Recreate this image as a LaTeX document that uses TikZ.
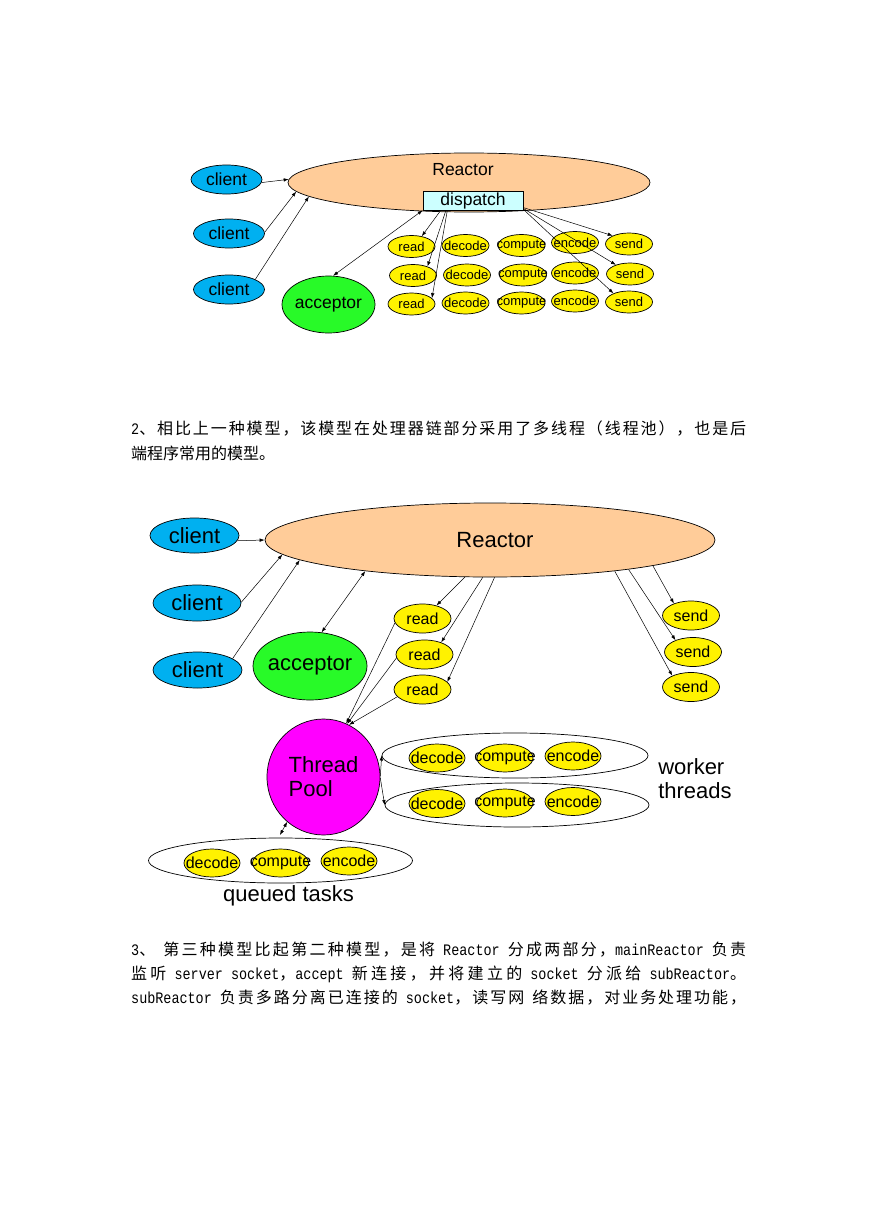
\documentclass[tikz,border=0pt]{standalone}
\usepackage{fontspec}
\usepackage{graphicx}
\usepackage{tikz}
\usetikzlibrary{arrows.meta, shapes.geometric}

\setmainfont{Noto Sans CJK SC}
\setsansfont{Liberation Sans}
\setmonofont{Liberation Mono}[FakeStretch=0.84]

% spread glue between Chinese characters, for justified lines
\XeTeXinterchartokenstate=1
\newcount\hanzi
\hanzi="4E00
\loop\ifnum\hanzi<"A000
	\XeTeXcharclass\hanzi=1
	\advance\hanzi by 1
\repeat
\XeTeXcharclass"3001=1
\XeTeXcharclass"3002=1
\XeTeXcharclass"FF08=1
\XeTeXcharclass"FF09=1
\XeTeXcharclass"FF0C=1
\XeTeXinterchartoks 1 1 = {\hskip 0pt plus 1fil}
\XeTeXinterchartoks 0 1 = {\hskip 0pt plus 1fil}
\XeTeXinterchartoks 1 0 = {\hskip 0pt plus 1fil}

\definecolor{clientblue}{RGB}{0,176,240}
\definecolor{reactorpeach}{RGB}{255,204,153}
\definecolor{dispcyan}{RGB}{204,255,255}
\definecolor{acceptgreen}{RGB}{40,250,40}
\definecolor{poolmagenta}{RGB}{255,0,255}

\begin{document}
\begin{tikzpicture}[x=1pt, y=-1pt,
		>={Latex[length=5pt, width=3.5pt]},
		onebig/.style={font=\sffamily\fontsize{17.5}{20}\selectfont},
		onesmall/.style={font=\sffamily\fontsize{13}{15}\selectfont},
		twobig/.style={font=\sffamily\fontsize{22}{24}\selectfont},
		twosmall/.style={font=\sffamily\fontsize{16}{18}\selectfont},
		blob/.style={draw, ellipse, line width=0.7pt, inner sep=0pt},
		reactor/.style={blob, fill=reactorpeach},
		client/.style={blob, fill=clientblue},
		acceptor/.style={blob, fill=acceptgreen},
		pool/.style={blob, fill=poolmagenta},
		group/.style={blob, fill=white},
		task/.style={blob, fill=yellow, minimum width=47pt, minimum height=22pt,
			label={[onesmall]center:#1}},
		reader/.style={blob, fill=yellow, minimum width=57pt, minimum height=29pt,
			label={[twosmall]center:#1}},
		job/.style={blob, fill=yellow, minimum width=56pt, minimum height=28pt,
			label={[twosmall]center:#1}},
		link/.style={line width=0.5pt, ->},
		para/.style={inner sep=0pt, anchor=west, font=\rmfamily\fontsize{16}{20}\selectfont}]

	\fill [white] (0,0) rectangle (868,1228);
	\useasboundingbox (0,0) rectangle (868,1228);

	% first model: one reactor
	\node [reactor, minimum width=362pt, minimum height=59pt,
		label={[onebig, xshift=-6pt, yshift=12.5pt]center:Reactor}]
		(reactor) at (469,182.5) {};
	\node [draw, line width=0.7pt, fill=dispcyan, inner sep=0pt,
		minimum width=100pt, minimum height=19pt, onebig]
		(dispatch) at (473,200.5) {dispatch};

	\node [client, onebig, minimum width=71pt, minimum height=29pt] (clientA) at (226.5,179.5) {client};
	\node [client, onebig, minimum width=71pt, minimum height=29pt] (clientB) at (229,233.5) {client};
	\node [client, onebig, minimum width=71pt, minimum height=29pt] (clientC) at (229,289.5) {client};
	\node [acceptor, minimum width=93pt, minimum height=57pt,
		label={[onebig]center:acceptor}] (acceptorA) at (328.5,304.5) {};

	\node [task=read] (readA1) at (411.5,246.5) {};
	\node [task=decode] (decodeA1) at (465.5,245.5) {};
	\node [task=compute] (computeA1) at (521.5,245.5) {};
	\node [task=encode] (encodeA1) at (575,242.5) {};
	\node [task=send] (sendA1) at (629,244) {};

	\node [task=read] (readA2) at (413,275.5) {};
	\node [task=decode] (decodeA2) at (467,275) {};
	\node [task=compute] (computeA2) at (523,275) {};
	\node [task=encode] (encodeA2) at (575,273) {};
	\node [task=send] (sendA2) at (630,274) {};

	\node [task=read] (readA3) at (411.5,304) {};
	\node [task=decode] (decodeA3) at (465.5,303) {};
	\node [task=compute] (computeA3) at (521.5,303) {};
	\node [task=encode] (encodeA3) at (575,301) {};
	\node [task=send] (sendA3) at (629,302) {};

	\draw [link] (clientA.-5) -- (reactor.179);
	\draw [link] (clientB.2) -- (reactor.183);
	\draw [link] (clientC.21) -- (reactor.185);
	\draw [link, <->] (acceptorA.81) -- (dispatch.south west);
	\draw [link] (dispatch.197) -- (readA1.45);
	\draw [link] (dispatch.200) -- (readA2.32);
	\draw [link] (dispatch.201) -- (readA3.16);
	\draw [link] (dispatch.-8) -- (sendA1.153);
	\draw [link] (dispatch.-9.5) -- (sendA2.147);
	\draw [link] (dispatch.-10.5) -- (sendA3.151);

	% text between the pictures
	\node [para] (textA1) at (131,429) {\makebox[615pt][s]{\texttt{2}、相比上一种模型，该模型在处理器链部分采用了多线程（线程池），也是后}};
	\node [para] (textA2) at (131,453) {端程序常用的模型。};

	% second model: reactor with a thread pool
	\node [reactor, minimum width=450pt, minimum height=74pt,
		label={[twobig, xshift=5pt]center:Reactor}]
		(reactorB) at (490,540) {};

	\node [client, twobig, minimum width=89pt, minimum height=35pt] (clientD) at (194.5,535.5) {client};
	\node [client, twobig, minimum width=88pt, minimum height=36pt] (clientE) at (197,603) {client};
	\node [client, twobig, minimum width=89pt, minimum height=36pt] (clientF) at (197.5,670) {client};
	\node [acceptor, minimum width=114pt, minimum height=68pt,
		label={[twobig]center:acceptor}] (acceptorB) at (310,666) {};

	\node [reader=read] (readB1) at (422.5,618.5) {};
	\node [reader=read] (readB2) at (424.5,654.5) {};
	\node [reader=read] (readB3) at (422.5,689.5) {};
	\node [reader=send] (sendB1) at (691,615.5) {};
	\node [reader=send] (sendB2) at (693,652) {};
	\node [reader=send] (sendB3) at (691,687) {};

	\node [pool, twobig, align=left, minimum width=113pt, minimum height=116pt]
		(pool) at (323.5,777) {Thread\\Pool};

	\node [group, minimum width=266pt, minimum height=45pt] (workerA) at (515,755.5) {};
	\node [job=decode] (decodeB1) at (437,758) {};
	\node [job=compute] (computeB1) at (505,758) {};
	\node [job=encode] (encodeB1) at (573,756) {};

	\node [group, minimum width=264pt, minimum height=44pt] (workerB) at (517,805) {};
	\node [job=decode] (decodeB2) at (437,803.5) {};
	\node [job=compute] (computeB2) at (505,803) {};
	\node [job=encode] (encodeB2) at (573,801.5) {};

	\node [twobig, align=left] (workers) at (695,779) {worker\\threads};

	\node [group, minimum width=264pt, minimum height=45pt] (queue) at (280.5,860.5) {};
	\node [job=decode] (decodeB3) at (212,863) {};
	\node [job=compute] (computeB3) at (280.5,863) {};
	\node [job=encode] (encodeB3) at (349,861) {};

	\node [twobig] (queued) at (288.5,896) {queued tasks};

	\draw [link] (clientD.-7) -- (reactorB.180);
	\draw [link] (clientE.1) -- (reactorB.184.4);
	\draw [link] (clientF.18) -- (reactorB.186.5);
	\draw [link, <->] (acceptorB.71) -- (reactorB.194.4);
	\draw [link] (reactorB.236.7) -- (readB1.43);
	\draw [link] (reactorB.259.6) -- (readB2.36);
	\draw [link] (reactorB.277.5) -- (readB3.17);
	\draw [link] (readB1.189) -- (pool.67);
	\draw [link] (readB2.187.5) -- (pool.66);
	\draw [link] (readB3.196) -- (pool.64);
	\draw [link] (reactorB.-9.6) -- (sendB1.145);
	\draw [link] (reactorB.-12.75) -- (sendB2.146);
	\draw [link] (reactorB.-14.9) -- (sendB3.149);
	\draw [link] (pool.1) -- (workerA.west);
	\draw [link] (pool.-1) -- (workerB.west);
	\draw [link, <->, shorten >=3pt] (pool.231) -- (queue.95);

	% text below
	\node [para] (textB1) at (131,950) {\makebox[615pt][s]{\texttt{3}、\texttt{ }第三种模型比起第二种模型，是将\texttt{ Reactor }分成两部分，\texttt{mainReactor }负责}};
	\node [para] (textB2) at (131,974) {\makebox[615pt][s]{监听\texttt{ server socket}，\texttt{accept }新连接，并将建立的\texttt{ socket }分派给\texttt{ subReactor}。}};
	\node [para] (textB3) at (131,998) {\makebox[615pt][s]{\texttt{subReactor }负责多路分离已连接的\texttt{ socket}，读写网\texttt{ }络数据，对业务处理功能，}};
\end{tikzpicture}
\end{document}
